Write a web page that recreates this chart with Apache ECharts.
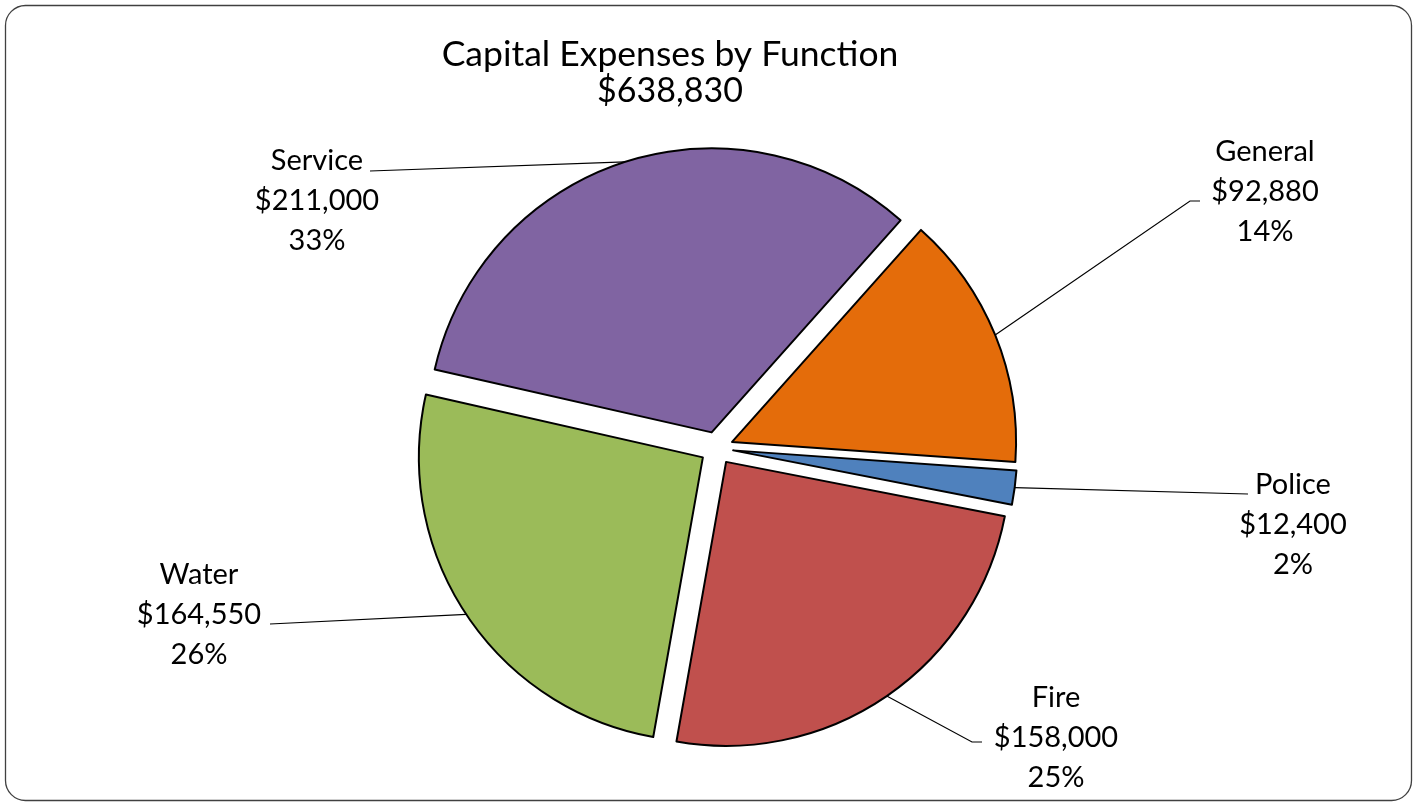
<!DOCTYPE html>
<html>
<head>
<meta charset="utf-8">
<script src="https://cdn.jsdelivr.net/npm/echarts@6/dist/echarts.min.js"></script>
<style>
  html, body { margin: 0; padding: 0; background: #fff; }
  #chart { width: 1422px; height: 803px; }
</style>
</head>
<body>
<div id="chart"></div>
<script>
// Capital expenses, by function
const categories = ['General', 'Police', 'Fire', 'Water', 'Service'];
const amounts = [92880, 12400, 158000, 164550, 211000];
const sliceColors = ['#E46C0A', '#4F81BD', '#C0504D', '#9BBB59', '#8064A2'];
const chartTitle = 'Capital Expenses by Function';

const FONT = 'Lato, "Open Sans", sans-serif';
const money = v => '$' + v.toLocaleString('en-US');
const total = amounts.reduce((s, v) => s + v, 0);

// pie geometry
const CENTER = [716.7, 448.2];
const RADIUS = 284;
const EXPLODE = 16.6;
const START = 48.3;

// label blocks: top-centre of the text and the leader line's last two points
const labelPlacement = [
  { x: 1265, y: 132, line: [[1190, 201], [1200, 201]] },
  { x: 1293, y: 465, line: [[1248, 494], [1248, 494]] },
  { x: 1056, y: 678, line: [[972, 742], [982, 742]] },
  { x: 199,  y: 555, line: [[270, 624], [270, 624]] },
  { x: 317,  y: 141, line: [[370, 171], [370, 171]] }
];

const pieData = categories.map((name, i) => ({ name: name, value: amounts[i] }));

const chart = echarts.init(document.getElementById('chart'), null, { renderer: 'canvas' });

chart.setOption({
  animation: false,
  backgroundColor: '#fff',
  graphic: [
    {
      type: 'rect',
      shape: { x: 5.5, y: 5.5, width: 1406, height: 795, r: 20 },
      style: { fill: 'none', stroke: '#404040', lineWidth: 1.3 },
      z: -1
    },
    {
      type: 'text', x: 670, y: 55,
      style: { text: chartTitle, font: '35.5px ' + FONT, fill: '#000', align: 'center', verticalAlign: 'middle' }
    },
    {
      type: 'text', x: 670, y: 91,
      style: { text: money(total), font: '34px ' + FONT, fill: '#000', align: 'center', verticalAlign: 'middle' }
    }
  ],
  series: [
    {
      // exploded slices
      type: 'pie',
      center: CENTER,
      radius: RADIUS,
      startAngle: START,
      clockwise: true,
      selectedMode: 'multiple',
      selectedOffset: EXPLODE,
      emphasis: { disabled: true },
      itemStyle: { borderColor: '#000', borderWidth: 2 },
      label: { show: false },
      labelLine: { show: false },
      z: 3,
      data: pieData.map((d, i) => ({
        name: d.name,
        value: d.value,
        selected: true,
        itemStyle: { color: sliceColors[i] }
      }))
    },
    {
      // label carrier: same angles, reaching the outer edge of the exploded slices
      type: 'pie',
      center: CENTER,
      radius: RADIUS + EXPLODE,
      startAngle: START,
      clockwise: true,
      silent: true,
      avoidLabelOverlap: false,
      percentPrecision: 0,
      emphasis: { disabled: true },
      itemStyle: { color: 'rgba(0,0,0,0)', borderWidth: 0 },
      z: 2,
      label: {
        show: true,
        position: 'outside',
        fontFamily: FONT,
        fontSize: 29,
        lineHeight: 40,
        color: '#000',
        formatter: p => p.name + '\n' + money(p.value) + '\n' + p.percent + '%'
      },
      labelLine: { show: true, length: 20, length2: 20, lineStyle: { color: '#000', width: 1.2 } },
      labelLayout: function (p) {
        const place = labelPlacement[p.dataIndex];
        const res = { x: place.x, y: place.y, align: 'center', verticalAlign: 'top' };
        if (p.labelLinePoints) {
          res.labelLinePoints = [p.labelLinePoints[0], place.line[0], place.line[1]];
        }
        return res;
      },
      data: pieData
    }
  ]
});
</script>
</body>
</html>
